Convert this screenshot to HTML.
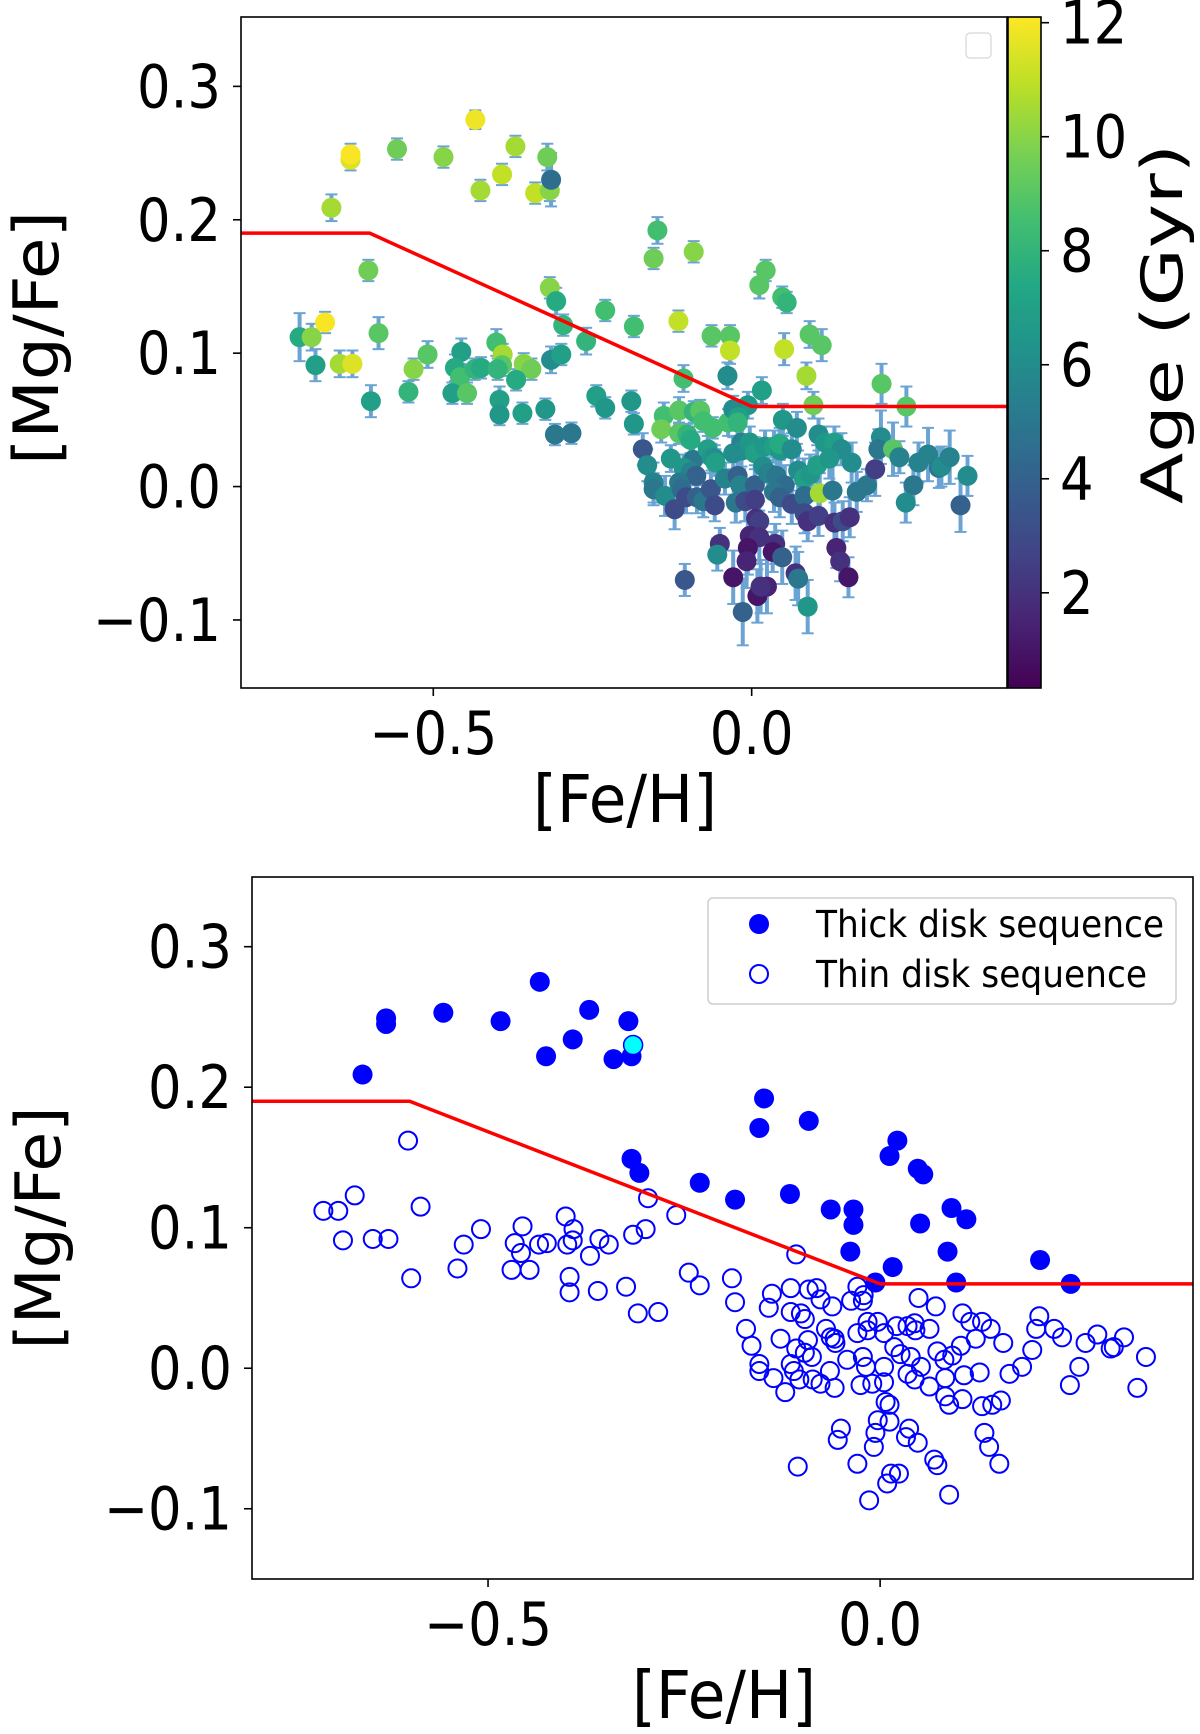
<!DOCTYPE html>
<html><head><meta charset="utf-8">
<style>
html,body{margin:0;padding:0;background:#fff;}
svg{display:block;font-family:"DejaVu Sans","Liberation Sans",sans-serif;}
</style></head>
<body>
<svg id="fig" width="1200" height="1734" viewBox="0 0 1200 1734" xmlns="http://www.w3.org/2000/svg">
  <defs>
    <linearGradient id="viridis" x1="0" y1="1" x2="0" y2="0">
      <stop offset="0" stop-color="#440154"/><stop offset="0.1" stop-color="#482475"/>
      <stop offset="0.2" stop-color="#414487"/><stop offset="0.3" stop-color="#355f8d"/>
      <stop offset="0.4" stop-color="#2a788e"/><stop offset="0.5" stop-color="#21918c"/>
      <stop offset="0.6" stop-color="#22a884"/><stop offset="0.7" stop-color="#44bf70"/>
      <stop offset="0.8" stop-color="#7ad151"/><stop offset="0.9" stop-color="#bddf26"/>
      <stop offset="1" stop-color="#fde725"/>
    </linearGradient>
  </defs>
  <g id="top"></g>
  <g id="bot"></g>
</svg>
<script>
const thickFe=[-0.660,-0.630,-0.630,-0.557,-0.484,-0.434,-0.426,-0.392,-0.371,-0.340,-0.321,-0.317,-0.317,-0.307,-0.230,-0.185,-0.148,-0.154,-0.091,-0.115,-0.063,-0.034,-0.034,-0.038,0.016,-0.006,0.012,0.022,0.048,0.055,0.051,0.091,0.110,0.086,0.097,0.204,0.243];
const thickMg=[0.209,0.245,0.249,0.253,0.247,0.275,0.222,0.234,0.255,0.220,0.247,0.222,0.149,0.139,0.132,0.120,0.192,0.171,0.176,0.124,0.113,0.113,0.102,0.083,0.072,0.061,0.151,0.162,0.142,0.138,0.103,0.114,0.106,0.083,0.061,0.077,0.060];
const thickAge=[10.5,11.5,12,9.5,10,11.8,10.5,11,10.5,11,9.5,10,10,7.5,8.5,8.5,8.5,9.5,10,11,9,9,11,6,7,6.5,9,9,8.5,8,11,9,9,10.5,9.5,9,9];
const thickErr=[0.01,0.008,0.008,0.008,0.008,0.007,0.008,0.008,0.008,0.008,0.01,0.008,0.008,0.01,0.008,0.008,0.01,0.008,0.008,0.008,0.008,0.008,0.01,0.01,0.01,0.01,0.01,0.008,0.008,0.008,0.012,0.01,0.012,0.01,0.01,0.015,0.015];
const highFe=[-0.315];
const highMg=[0.230];
const highAge=[4.5];
const highErr=[0.008];
const thinFe=[-0.602,-0.710,-0.691,-0.670,-0.685,-0.647,-0.627,-0.586,-0.598,-0.531,-0.539,-0.509,-0.456,-0.466,-0.458,-0.470,-0.447,-0.435,-0.425,-0.401,-0.391,-0.392,-0.399,-0.396,-0.396,-0.358,-0.346,-0.370,-0.360,-0.324,-0.309,-0.283,-0.315,-0.299,-0.296,-0.260,-0.244,-0.230,
-0.107,-0.189,-0.185,-0.138,-0.142,-0.114,-0.091,-0.081,-0.076,-0.061,-0.114,-0.101,-0.096,-0.171,-0.164,-0.154,-0.154,-0.136,-0.121,-0.127,-0.092,-0.107,-0.096,-0.087,-0.114,-0.110,-0.103,-0.086,-0.076,-0.064,-0.058,-0.069,-0.063,-0.058,-0.057,-0.042,-0.037,-0.029,-0.021,-0.022,-0.029,-0.016,-0.016,-0.003,0.005,-0.022,-0.018,-0.025,-0.010,0.005,0.005,0.007,0.012,-0.003,0.012,-0.006,-0.008,-0.050,-0.054,-0.029,-0.105,-0.014,0.009,0.024,0.014,0.021,0.035,0.045,0.044,0.063,0.018,0.026,0.039,0.052,0.035,0.044,0.063,0.049,0.071,0.073,0.082,0.092,0.103,0.083,0.107,0.127,0.083,0.088,0.105,0.130,0.143,0.154,0.037,0.033,0.048,0.069,0.073,0.088,0.105,0.115,0.130,0.141,0.122,0.157,0.133,0.139,0.152,0.165,0.181,0.194,0.203,0.199,0.222,0.232,0.262,0.277,0.294,0.298,0.311,0.339,0.254,0.242,0.328];
const thinMg=[0.162,0.112,0.112,0.123,0.091,0.092,0.092,0.115,0.064,0.088,0.071,0.099,0.101,0.089,0.082,0.070,0.070,0.088,0.089,0.108,0.099,0.091,0.088,0.065,0.054,0.092,0.088,0.080,0.055,0.058,0.039,0.040,0.095,0.099,0.121,0.109,0.068,0.059,
0.081,0.064,0.047,0.053,0.043,0.057,0.056,0.057,0.049,0.044,0.040,0.039,0.035,0.028,0.016,0.003,-0.002,-0.007,-0.017,0.021,0.020,0.014,0.011,0.008,0.003,-0.002,-0.008,-0.008,-0.011,-0.002,-0.014,0.028,0.022,0.021,0.018,0.006,0.048,0.058,0.052,0.048,0.025,0.033,0.027,0.033,0.025,0.008,0.001,-0.012,-0.011,0.001,-0.010,-0.024,-0.026,-0.037,-0.038,-0.046,-0.056,-0.043,-0.051,-0.068,-0.070,-0.094,-0.082,-0.075,-0.075,0.030,0.030,0.027,0.032,0.028,0.015,0.010,0.008,0.001,-0.004,-0.008,-0.013,0.050,0.044,0.012,0.006,0.009,0.016,-0.007,-0.005,-0.003,-0.020,-0.026,-0.022,-0.027,-0.026,-0.023,-0.043,-0.049,-0.053,-0.065,-0.069,-0.090,0.039,0.033,0.033,0.028,0.021,0.018,-0.046,-0.056,-0.068,-0.004,0.001,0.013,0.037,0.028,0.028,0.022,0.018,0.024,0.014,0.015,0.022,0.008,0.001,-0.012,-0.014];
const thinAge=[9.5,7.5,10,12,7,10.5,11.5,9,7,10,8,9,7,7.5,8.5,7,9,8,7.5,8.5,10.5,9,8,7,6.5,10,9.5,7.5,7,6.5,5,5,6,7,8,8,7,6.5,
8.5,6.5,6.5,8.5,9.5,9,8,9,8.5,8.5,9,8,7.5,3.5,6,5.5,5,6,3,6.5,5,6.5,5.5,4,5,4.5,3,4,5,3.5,3,7,6.5,6,7,5.5,8.5,6,7,8,6,5.5,6,6.5,7,4,5.5,5,3,4,2.5,2,2.5,1.5,2,1,1.5,2,6,1,3.5,4,1,1.5,2,6.5,7,6.5,7.5,6,6,5.5,5,4.5,5,4,3,6.5,6,6,7,6.5,7,4.5,10.5,5,3,2,2.5,2,3,2,2,1,4,2,5,6.5,6,6.5,7,6,6.5,6,1.5,2,1,5,5,2.5,6,5,9,5.5,5.5,5.5,5,6,5.5,6,5,6,4];
const thinErr=[0.008,0.018,0.01,0.008,0.012,0.01,0.01,0.012,0.012,0.008,0.008,0.01,0.01,0.01,0.01,0.008,0.008,0.008,0.008,0.01,0.008,0.008,0.008,0.01,0.008,0.008,0.008,0.008,0.008,0.008,0.008,0.008,0.01,0.008,0.008,0.01,0.008,0.008,
0.01,0.008,0.008,0.01,0.01,0.01,0.008,0.008,0.008,0.008,0.008,0.008,0.01,0.012,0.012,0.015,0.012,0.015,0.015,0.01,0.01,0.01,0.01,0.01,0.012,0.012,0.012,0.012,0.012,0.012,0.012,0.01,0.01,0.01,0.01,0.012,0.01,0.01,0.01,0.01,0.012,0.012,0.012,0.012,0.012,0.012,0.012,0.015,0.015,0.015,0.015,0.015,0.015,0.015,0.02,0.02,0.02,0.012,0.012,0.02,0.012,0.025,0.02,0.02,0.02,0.012,0.012,0.012,0.012,0.012,0.012,0.012,0.012,0.015,0.015,0.015,0.015,0.012,0.012,0.015,0.015,0.015,0.015,0.015,0.015,0.02,0.015,0.015,0.015,0.015,0.015,0.015,0.015,0.015,0.02,0.02,0.02,0.02,0.012,0.012,0.012,0.012,0.015,0.015,0.015,0.015,0.015,0.015,0.012,0.02,0.02,0.015,0.02,0.012,0.015,0.02,0.015,0.015,0.02,0.015,0.015,0.015,0.02,0.02];
const lineFe=[-1.0,-0.6,0.0,1.0];
const lineMg=[0.19,0.19,0.06,0.06];
const xTicks=[-0.5,0.0];
const xTickLabels=["\u22120.5","0.0"];
const yTicks=[-0.1,0.0,0.1,0.2,0.3];
const yTickLabels=["\u22120.1","0.0","0.1","0.2","0.3"];
const cTicks=[2,4,6,8,10,12];
const cTickLabels=["2","4","6","8","10","12"];

const NS="http://www.w3.org/2000/svg";
function mk(parent,tag,attrs){const e=document.createElementNS(NS,tag);for(const k in attrs)e.setAttribute(k,attrs[k]);parent.appendChild(e);return e;}
function txt(parent,x,y,s,size,anchor,sx,rot){
  const t=mk(parent,"text",{x:0,y:0,"font-size":size,"text-anchor":anchor,transform:"translate("+x+","+y+")"+(rot?" rotate(-90)":"")+" scale("+sx+",1)"});
  t.textContent=s;return t;}
const VIR=["#440154","#482475","#414487","#355f8d","#2a788e","#21918c","#22a884","#44bf70","#7ad151","#bddf26","#fde725"];
function hx(c){return [parseInt(c.slice(1,3),16),parseInt(c.slice(3,5),16),parseInt(c.slice(5,7),16)];}
function viridis(t){t=Math.max(0,Math.min(1,t));const p=t*10,i=Math.min(9,Math.floor(p)),f=p-i;const a=hx(VIR[i]),b=hx(VIR[i+1]);return "rgb("+a.map((v,k)=>Math.round(v+(b[k]-v)*f)).join(",")+")";}

function panel(g,cfg){
  const X=v=>cfg.L+(v-cfg.x0)/(cfg.x1-cfg.x0)*(cfg.R-cfg.L);
  const Y=v=>cfg.B-(v-cfg.y0)/(cfg.y1-cfg.y0)*(cfg.B-cfg.T);
  const clipId="clip"+cfg.id;
  const cp=mk(g,"clipPath",{id:clipId});mk(cp,"rect",{x:cfg.L,y:cfg.T,width:cfg.R-cfg.L,height:cfg.B-cfg.T});
  const data=mk(g,"g",{"clip-path":"url(#"+clipId+")"});
  
  
  cfg.draw(data,X,Y);
  const pl=mk(data,"polyline",{points:lineFe.map((v,i)=>X(v)+","+Y(lineMg[i])).join(" "),fill:"none",stroke:"#ff0000","stroke-width":3.5});
  
  
  const fr=mk(g,"rect",{x:cfg.L,y:cfg.T,width:cfg.R-cfg.L,height:cfg.B-cfg.T,fill:"none",stroke:"#000","stroke-width":1.6});
  
  
  xTicks.forEach((v,i)=>{
    mk(g,"line",{x1:X(v),x2:X(v),y1:cfg.B,y2:cfg.B+8,stroke:"#000","stroke-width":1.6});
    const t=txt(g,X(v),cfg.B+66,xTickLabels[i],60,"middle",0.88,false);
    
    
  });
  yTicks.forEach((v,i)=>{
    mk(g,"line",{x1:cfg.L-8,x2:cfg.L,y1:Y(v),y2:Y(v),stroke:"#000","stroke-width":1.6});
    const t=txt(g,cfg.L-20,Y(v)+21,yTickLabels[i],60,"end",0.88,false);
    
    
  });
  const xl=mk(g,"text",{x:cfg.xlx,y:cfg.xly,"text-anchor":"middle","font-size":66,textLength:184,lengthAdjust:"spacingAndGlyphs"});xl.textContent="[Fe/H]";
  
  
  const yl=mk(g,"text",{x:0,y:0,"text-anchor":"middle","font-size":62,textLength:cfg.ylLen,lengthAdjust:"spacingAndGlyphs",transform:"translate("+cfg.ylx+","+cfg.yly+") rotate(-90)"});yl.textContent="[Mg/Fe]";
  
  
}

const A0=0.33,A1=12.1;
const ageColor=a=>viridis((a-A0)/(A1-A0));
panel(document.getElementById("top"),{id:"t",L:241,R:1007,T:17,B:688,x0:-0.802,x1:0.401,y0:-0.151,y1:0.352,ylx:58,yly:338,ylLen:254,xlx:625,xly:822,
 draw:(g,X,Y)=>{
  const fe=thickFe.concat(thinFe,highFe),mg=thickMg.concat(thinMg,highMg),ag=thickAge.concat(thinAge,highAge),er=thickErr.concat(thinErr,highErr);
  const eg=mk(g,"g",{stroke:"#5b9bd0","stroke-width":4,opacity:0.9});
  
  
  fe.forEach((v,i)=>{const x=X(v),y1=Y(mg[i]+er[i]),y2=Y(mg[i]-er[i]);
    const ln=mk(eg,"line",{x1:x,x2:x,y1:y1,y2:y2});
    
    
    mk(eg,"line",{x1:x-6,x2:x+6,y1:y1,y2:y1,"stroke-width":2});mk(eg,"line",{x1:x-6,x2:x+6,y1:y2,y2:y2,"stroke-width":2});});
  fe.forEach((v,i)=>{const c=mk(g,"circle",{cx:X(v),cy:Y(mg[i]),r:10,fill:ageColor(ag[i])});
    
    });
 }});
(function(){const g=document.getElementById("top");
  const cb=mk(g,"rect",{x:1008,y:17,width:33,height:671,fill:"url(#viridis)",stroke:"#000","stroke-width":1.6});
  
  
  const CY=a=>688-(a-A0)/(A1-A0)*671;
  cTicks.forEach((v,i)=>{mk(g,"line",{x1:1041,x2:1049,y1:CY(v),y2:CY(v),stroke:"#000","stroke-width":1.6});
    const t=txt(g,1060,CY(v)+21,cTickLabels[i],60,"start",0.88,false);
    
    });
  const cl=mk(g,"text",{x:0,y:0,"text-anchor":"middle","font-size":57,textLength:360,lengthAdjust:"spacingAndGlyphs",transform:"translate(1182,324) rotate(-90)"});cl.textContent="Age (Gyr)";
  
  
  const lg=mk(g,"rect",{x:966,y:33,width:25,height:25,rx:4,fill:"#fff",stroke:"#ddd","stroke-width":1.5});
  
  
})();
panel(document.getElementById("bot"),{id:"b",L:252,R:1193,T:877,B:1579,x0:-0.801,x1:0.399,y0:-0.150,y1:0.3496,ylx:60,yly:1228,ylLen:243,xlx:724,xly:1718,
 draw:(g,X,Y)=>{
  thinFe.forEach((v,i)=>{const c=mk(g,"circle",{cx:X(v),cy:Y(thinMg[i]),r:9,fill:"none",stroke:"#0000ff","stroke-width":2});
    
    });
  thickFe.forEach((v,i)=>{const c=mk(g,"circle",{cx:X(v),cy:Y(thickMg[i]),r:10,fill:"#0000ff"});
    
    });
  highFe.forEach((v,i)=>{const c=mk(g,"circle",{cx:X(v),cy:Y(highMg[i]),r:9.5,fill:"#00ffff",stroke:"#0000ff","stroke-width":1.5});
    
    });
 }});
(function(){const g=document.getElementById("bot");
  const lg=mk(g,"g",{});
  
  
  mk(lg,"rect",{x:708,y:898,width:468,height:106,rx:5,fill:"#fff",stroke:"#ccc","stroke-width":1.5,opacity:0.95});
  mk(lg,"circle",{cx:759,cy:924,r:10,fill:"#0000ff"});
  mk(lg,"circle",{cx:759,cy:974,r:9,fill:"none",stroke:"#0000ff","stroke-width":2});
  const t1=txt(lg,816,937,"Thick disk sequence",37,"start",0.93,false);
  
  
  const t2=txt(lg,816,987,"Thin disk sequence",37,"start",0.93,false);
  
  
})();
</script>
</body></html>
